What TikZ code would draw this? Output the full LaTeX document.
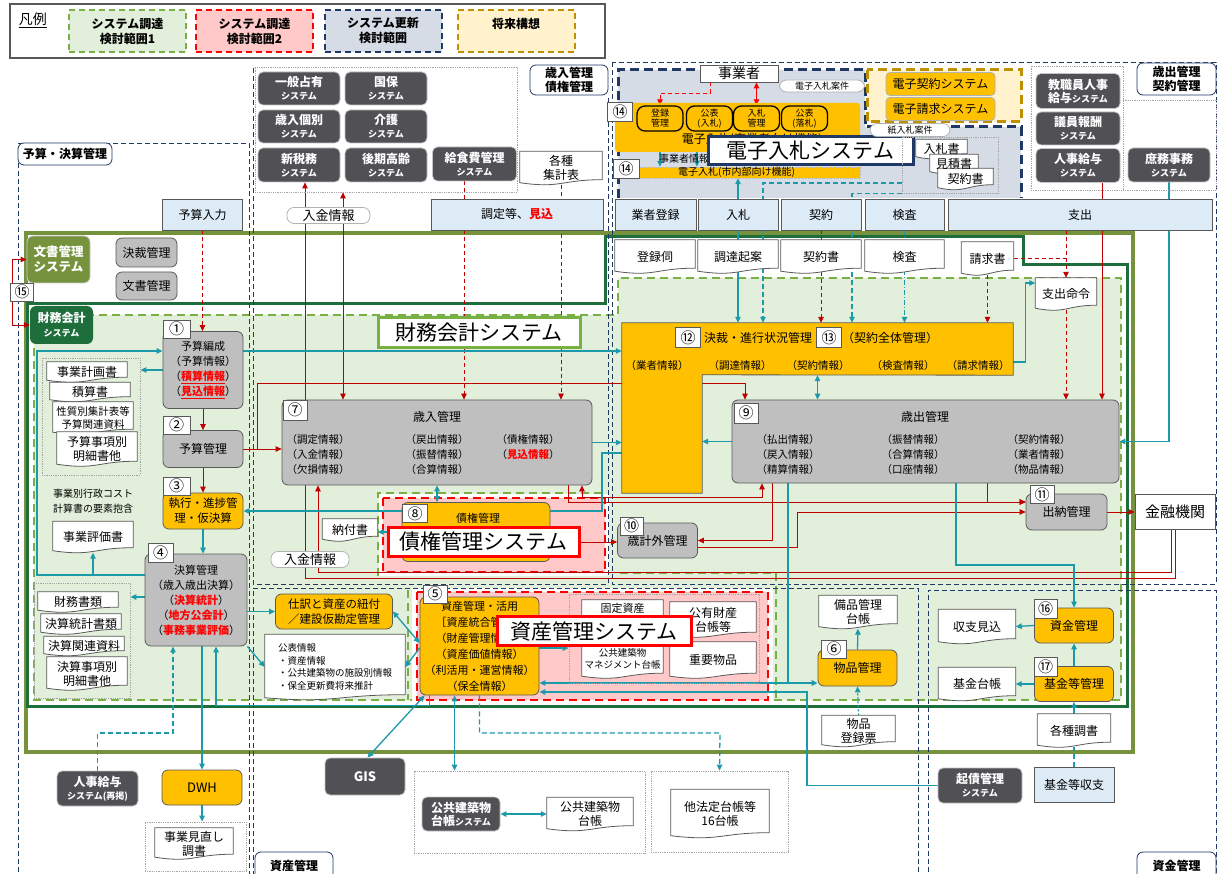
\documentclass[tikz,border=0pt]{standalone}
\usepackage{fontspec}
\setmainfont{Noto Sans CJK JP}
\usepackage{xcolor}
\usepackage{tikz}
\usetikzlibrary{arrows.meta,positioning,calc}

\definecolor{cOlive}{HTML}{76923C}
\definecolor{cDkGreen}{HTML}{1E6E3C}
\definecolor{cLtGreen}{HTML}{E2EFDA}
\definecolor{cGrnDash}{HTML}{78B045}
\definecolor{cPink}{HTML}{FFC9C9}
\definecolor{cRedDash}{HTML}{FF0000}
\definecolor{cNavy}{HTML}{1F3864}
\definecolor{cBlueGray}{HTML}{D6DCE5}
\definecolor{cGold}{HTML}{BF9000}
\definecolor{cLtYellow}{HTML}{FFF2CC}
\definecolor{cOrange}{HTML}{FFC000}
\definecolor{cProc}{HTML}{BFBFBF}
\definecolor{cLine}{HTML}{595959}
\definecolor{cSys}{HTML}{505055}
\definecolor{cInBlue}{HTML}{DDEBF7}
\definecolor{cTeal}{HTML}{1B9AAA}
\definecolor{cLineRed}{HTML}{C00000}
\definecolor{cHiRed}{HTML}{FF0000}

\pgfdeclarelayer{bg}
\pgfdeclarelayer{lines}
\pgfdeclarelayer{docs}
\pgfsetlayers{bg,lines,docs,main}

\newcommand\sysname[1]{#1\\{\fontsize{9}{10}\selectfont システム}}
\newcommand\hired[1]{\textcolor{cHiRed}{\bfseries #1}}
\newcommand\docout[1]{\filldraw[docline] (#1.north west) -- (#1.north east) -- ($(#1.south east)+(0,-5)$) .. controls ($(#1.south)+(0,-5)$) and ($(#1.south)+(0,4)$) .. ($(#1.south west)+(0,-2)$) -- cycle;}

\begin{document}
\begin{tikzpicture}[x=1pt, y=-1pt, >={Triangle[length=6pt,width=5.5pt]},
    sz/.style 2 args={minimum width=#1, minimum height=#2},
    proc/.style={rectangle, rounded corners=6pt, draw=cLine, thick, fill=cProc, align=center, inner sep=1pt, font=\fontsize{12}{14}\selectfont},
    orng/.style={proc, fill=cOrange},
    sub/.style={rectangle, rounded corners=8pt, draw=black, line width=1.3pt, fill=cOrange, align=center, inner sep=0pt, minimum width=46pt, minimum height=25pt, font=\fontsize{9}{10}\selectfont},
    sys/.style={rectangle, rounded corners=5pt, draw=gray!45, thick, fill=cSys, text=white, align=center, inner sep=1pt, font=\bfseries\fontsize{12}{13}\selectfont},
    inp/.style={rectangle, draw=cLine, thick, fill=cInBlue, align=center, inner sep=1pt, font=\fontsize{12}{14}\selectfont},
    doc/.style={rectangle, align=center, inner sep=1pt, font=\fontsize{12}{14}\selectfont},
    docline/.style={draw=cLine, thick, fill=white},
    badge/.style={rectangle, draw=cLine, thick, fill=white, inner sep=0pt, minimum width=24pt, minimum height=19pt, font=\fontsize{15}{15}\selectfont},
    pill/.style={rectangle, rounded corners=7pt, draw=gray!60, thick, fill=white, inner sep=1pt, font=\fontsize{13}{13}\selectfont},
    biglbl/.style={rectangle, fill=white, line width=3pt, inner sep=2pt, font=\fontsize{21}{24}\selectfont},
    areatag/.style={rectangle, rounded corners=6pt, draw=cNavy, thick, fill=white, align=center, inner sep=1pt, font=\bfseries\fontsize{12}{14}\selectfont},
    lg/.style={rectangle, line width=2pt, dash pattern=on 6pt off 4pt, align=center, minimum width=117pt, minimum height=42pt, font=\bfseries\fontsize{12}{15}\selectfont},
    dotbox/.style={rectangle, draw=gray!70, densely dotted, thick, inner sep=0pt},
    txt/.style={inner sep=0pt, align=center, font=\fontsize{10.5}{15}\selectfont},
    rarr/.style={draw=cLineRed, thick, ->},
    rboth/.style={draw=cLineRed, thick, <->},
    rdash/.style={rarr, dash pattern=on 4pt off 3pt},
    tarr/.style={draw=cTeal, line width=1.3pt, ->},
    tboth/.style={draw=cTeal, line width=1.3pt, <->},
    tdash/.style={tarr, dash pattern=on 5pt off 3pt},
    tdot/.style={tarr, dash pattern=on 5pt off 2pt on 1pt off 2pt}
]
\useasboundingbox (0,0) rectangle (1218,874);

% legend
\node[draw=cLine, line width=1.5pt, sz={595}{54}] (legend) at (307.5,31) {};
\node[font=\fontsize{14}{14}\selectfont] (lgTitle) at (33,20) {\underline{凡例}};
\node[lg, fill=cLtGreen, draw=cGrnDash] (lgGreen) at (127.5,31) {システム調達\\検討範囲1};
\node[lg, fill=cPink, draw=cRedDash] (lgRed) at (254.5,31) {システム調達\\検討範囲2};
\node[lg, fill=cBlueGray, draw=cNavy] (lgNavy) at (383,31) {システム更新\\検討範囲};
\node[lg, fill=cLtYellow, draw=cGold] (lgGold) at (516,31) {将来構想\\\mbox{}};

% groups of systems
\node[dotbox, sz={262}{125}] (sysGroup) at (386,129.5) {};
\node[dotbox, sz={92}{124}] (jinjiGroup) at (1077,128) {};
\node[dotbox, sz={93}{90}] (shomuGroup) at (1169.5,145) {};
\node[sys, sz={82}{33}] (sysIppan) at (299,88.5) {\sysname{一般占有}};
\node[sys, sz={82}{33}] (sysKokuho) at (386,88.5) {\sysname{国保}};
\node[sys, sz={82}{33}] (sysSainyu) at (299,126.5) {\sysname{歳入個別}};
\node[sys, sz={82}{33}] (sysKaigo) at (386,126.5) {\sysname{介護}};
\node[sys, sz={82}{34}] (sysZeimu) at (299,165) {\sysname{新税務}};
\node[sys, sz={82}{34}] (sysKouki) at (386,165) {\sysname{後期高齢}};
\node[sys, sz={84}{34}] (sysKyushoku) at (474.5,164) {\sysname{給食費管理}};
\node[doc, sz={82}{33}] (docShukei) at (561,168) {各種\\集計表};
\node[sys, sz={84}{35}] (sysKyoshoku) at (1078,91) {教職員人事\\給与{\fontsize{9}{10}\selectfont システム}};
\node[sys, sz={84}{33}] (sysGiin) at (1078,128.5) {\sysname{議員報酬}};
\node[sys, sz={84}{34}] (sysJinji) at (1078,165.5) {\sysname{人事給与}};
\node[sys, sz={82}{34}] (sysShomu) at (1169,165) {\sysname{庶務事務}};

% electronic bidding
\node[inp, fill=white, sz={78}{17}, font=\fontsize{14}{14}\selectfont] (jigyosha) at (739,73.5) {事業者};
\node[pill, sz={85}{12}, font=\fontsize{9}{10}\selectfont] (pillEbid) at (822,86) {電子入札案件};
\node[rectangle, rounded corners=3pt, fill=cOrange, draw=gray!50, densely dotted, sz={245}{49}] (ebidTop) at (737.5,127.5) {};
\node[txt, font=\fontsize{12}{12}\selectfont] (ebidTopTxt) at (752,140) {電子入札(事業者向け機能)};
\node[badge, sz={25}{19}] (b14a) at (620,112) {⑭};
\node[sub] (regKanri) at (660,118.5) {登録\\管理};
\node[sub] (pubBid) at (709.5,118.5) {公表\\(入札)};
\node[sub] (bidKanri) at (756.5,118.5) {入札\\管理};
\node[sub] (pubWin) at (804.5,118.5) {公表\\(落札)};
\node[txt, font=\fontsize{10}{10}\selectfont] (gyoshaInfo) at (684,159) {事業者情報};
\node[rectangle, fill=cOrange, draw=gray!50, densely dotted, sz={247}{11}, inner sep=0pt, font=\fontsize{10}{10}\selectfont] (ebidIn) at (736.5,172.5) {電子入札(市内部向け機能)};
\node[badge, sz={26}{19}] (b14b) at (626,168.5) {⑭};
\node[biglbl, draw=cNavy, sz={205}{28}] (ebidLbl) at (810.5,151) {電子入札システム};
\node[orng, rounded corners=4pt, draw=gray!60, sz={109}{23}] (keiyakuSys) at (940.5,84) {電子契約システム};
\node[orng, rounded corners=4pt, draw=gray!60, sz={109}{23}] (seikyuSys) at (940.5,109) {電子請求システム};
\node[pill, sz={80}{13}, font=\fontsize{9}{10}\selectfont] (pillPaper) at (910,130) {紙入札案件};
\node[dotbox, sz={96}{56}] (docBoxP) at (950,165) {};
\node[doc, sz={51}{19}] (nyusatsuDoc) at (941.5,149) {入札書};
\node[doc, sz={48}{19}] (mitsumoriDoc) at (954,164) {見積書};
\node[doc, sz={55}{21}] (keiyakuDocP) at (965.5,179) {契約書};

% input row
\node[inp, sz={80}{31}] (yosanIn) at (202.5,214.5) {予算入力};
\node[inp, sz={172}{31}] (choteiIn) at (517,214.5) {調定等、\hired{見込}};
\node[inp, sz={81}{31}] (gyoshaIn) at (655.5,214.5) {業者登録};
\node[inp, sz={80}{31}] (nyusatsuIn) at (738,214.5) {入札};
\node[inp, sz={80}{31}] (keiyakuIn) at (821,214.5) {契約};
\node[inp, sz={79}{31}] (kensaIn) at (904.5,214.5) {検査};
\node[inp, sz={264}{31}] (shishutsuIn) at (1080,214.5) {支出};
\node[doc, sz={80}{33}] (tourokuDoc) at (655,256.5) {登録伺};
\node[doc, sz={80}{33}] (chotatsuDoc) at (738,256.5) {調達起案};
\node[doc, sz={80}{33}] (keiyakuDoc) at (821,256.5) {契約書};
\node[doc, sz={79}{33}] (kensaDoc) at (904.5,256.5) {検査};
\node[doc, sz={52}{33}] (seikyuDoc) at (987.5,258.5) {請求書};
\node[doc, sz={61}{32}] (meireiDoc) at (1066,294) {支出命令};
\node[pill, sz={83}{16}] (pillNyukin1) at (328.5,215.5) {入金情報};
\node[pill, sz={78}{16}] (pillNyukin2) at (310,559.5) {入金情報};

% document management
\node[rectangle, rounded corners=6pt, fill=cOlive, draw=gray!40, thick, text=white, align=center, font=\bfseries\fontsize{12.5}{15}\selectfont, sz={63}{47}] (bunshoSys) at (58.5,259.5) {文書管理\\システム};
\node[proc, sz={61}{29}] (kessaiK) at (146.5,252.5) {決裁管理};
\node[proc, sz={61}{28}] (bunshoK) at (146.5,286) {文書管理};
\node[badge, sz={23}{18}] (b15) at (22,292) {⑮};
\node[rectangle, rounded corners=6pt, fill=cDkGreen, text=white, align=center, font=\bfseries\fontsize{12}{14}\selectfont, sz={63}{38}] (zaimuLbl) at (61.5,325) {\sysname{財務会計}};
\node[biglbl, draw=cGrnDash, sz={202}{30}] (zaimuBig) at (479,333) {財務会計システム};

% budget and settlement
\node[proc, sz={80}{77}, font=\fontsize{11}{15}\selectfont] (yosanHensei) at (203,370) {予算編成\\（予算情報）\\（\textcolor{cHiRed}{\bfseries\underline{積算情報}}）\\（\textcolor{cHiRed}{\bfseries\underline{見込情報}}）};
\node[badge, sz={27}{18}] (b1) at (176.5,329) {①};
\node[proc, sz={80}{37}] (yosanKanri) at (203,449) {予算管理};
\node[badge, sz={27}{18}] (b2) at (176.5,425) {②};
\node[orng, sz={80}{36}, font=\fontsize{11.5}{15}\selectfont] (shikko) at (203,511) {執行・進捗管\\理・仮決算};
\node[badge, sz={27}{18}] (b3) at (176.5,486) {③};
\node[proc, sz={102}{92}, font=\fontsize{11}{15}\selectfont] (kessan) at (196,600) {決算管理\\（歳入歳出決算）\\（\hired{決算統計}）\\（\hired{地方公会計}）\\（\hired{事務事業評価}）};
\node[badge, sz={25}{19}] (b4) at (160.5,552.5) {④};
\node[dotbox, sz={98}{117}] (docBox1) at (91,416.5) {};
\node[doc, sz={80}{20}] (jigyoKeikaku) at (87,372) {事業計画書};
\node[doc, sz={80}{19}] (sekisan) at (90,392) {積算書};
\node[doc, sz={80}{32}, font=\fontsize{10.5}{13}\selectfont] (seishitsu) at (93,418) {性質別集計表等\\予算関連資料};
\node[doc, sz={80}{34}] (yosanJiko) at (97,449) {予算事項別\\明細書他};
\node[txt, align=left, font=\fontsize{10}{15}\selectfont] (costTxt) at (93,501) {事業別行政コスト\\計算書の要素抱含};
\node[doc, sz={80}{31}] (hyokaDoc) at (93,537) {事業評価書};
\node[dotbox, sz={96}{115}] (docBox2) at (82,640.5) {};
\node[doc, sz={80}{20}] (zaimuShorui) at (78,602) {財務書類};
\node[doc, sz={80}{20}] (kessanTokei) at (81,624) {決算統計書類};
\node[doc, sz={80}{19}] (kessanKanren) at (84,646) {決算関連資料};
\node[doc, sz={80}{33}] (kessanJiko) at (87,673.5) {決算事項別\\明細書他};
\node[sys, sz={81}{35}] (jinjiSai) at (97.5,788.5) {人事給与\\{\fontsize{9}{10}\selectfont システム(再掲)}};
\node[orng, sz={80}{35}, font=\fontsize{13}{13}\selectfont] (dwh) at (202,787.5) {DWH};
\node[dotbox, sz={101}{49}] (minaoBox) at (195.5,846.5) {};
\node[doc, sz={78}{31}] (minaoshiDoc) at (194,843.5) {事業見直し\\調書};

% revenue
\node[proc, sz={310}{85}] (sainyuK) at (437,442.5) {};
\node[badge, sz={24}{20}] (b7) at (295,410) {⑦};
\node[txt, font=\fontsize{12}{12}\selectfont] (sainyuTtl) at (437,417) {歳入管理};
\node[txt] (sainyuC1) at (318,455) {（調定情報）\\（入金情報）\\（欠損情報）};
\node[txt] (sainyuC2) at (437,455) {（戻出情報）\\（振替情報）\\（合算情報）};
\node[txt] (sainyuC3) at (528,447.5) {（債権情報）\\（\hired{見込情報}）};
\node[orng, sz={148}{59}] (saikenK) at (476,532) {};
\node[badge, sz={25}{18}] (b8) at (415,513.5) {⑧};
\node[txt, font=\fontsize{11}{11}\selectfont] (saikenTtl) at (478,518) {債権管理};
\node[doc, sz={55}{22}] (nofuDoc) at (350,530) {納付書};
\node[biglbl, draw=cRedDash, sz={191}{29}] (saikenLbl) at (483.5,542) {債権管理システム};

% approval and expenditure
\node[sz={391}{52}, inner sep=0pt] (kessaiTop) at (817.5,349) {};
\node[sz={80}{118}, inner sep=0pt] (kessaiLeg) at (662,434) {};
\node[badge, sz={25}{20}] (b12) at (688,337.5) {⑫};
\node[txt, anchor=west, font=\fontsize{12}{12}\selectfont] (kessaiTtl) at (704,338) {決裁・進行状況管理};
\node[badge, sz={25}{20}] (b13) at (829,337.5) {⑬};
\node[txt, anchor=west, font=\fontsize{12}{12}\selectfont] (keiyakuTtl) at (842,338) {（契約全体管理）};
\node[txt] (kInfo1) at (657,366) {（業者情報）};
\node[txt] (kInfo2) at (740,366) {（調達情報）};
\node[txt] (kInfo3) at (818,366) {（契約情報）};
\node[txt] (kInfo4) at (903,366) {（検査情報）};
\node[txt] (kInfo5) at (978,366) {（請求情報）};
\node[proc, sz={387}{83}] (saishutsuK) at (925.5,441.5) {};
\node[badge, sz={24}{20}] (b9) at (746,413) {⑨};
\node[txt, font=\fontsize{12}{12}\selectfont] (saishutsuTtl) at (925,417) {歳出管理};
\node[txt] (saishutsuC1) at (788,455) {（払出情報）\\（戻入情報）\\（精算情報）};
\node[txt] (saishutsuC2) at (913,455) {（振替情報）\\（合算情報）\\（口座情報）};
\node[txt] (saishutsuC3) at (1039,455) {（契約情報）\\（業者情報）\\（物品情報）};
\node[proc, sz={80}{35}] (saikeigai) at (657.5,540.5) {歳計外管理};
\node[badge, sz={23}{18}] (b10) at (631.5,526) {⑩};
\node[proc, sz={81}{36}] (suitou) at (1066.5,512) {出納管理};
\node[badge, sz={24}{18}] (b11) at (1042,494.5) {⑪};
\node[inp, fill=white, sz={80}{35}, font=\fontsize{15}{15}\selectfont] (kinyu) at (1175,512) {金融機関};

% assets
\node[orng, sz={117}{35}, font=\fontsize{11.5}{15}\selectfont] (shiwake) at (334,611.5) {仕訳と資産の紐付\\／建設仮勘定管理};
\node[doc, align=left, sz={140}{65}, font=\fontsize{9.5}{12.5}\selectfont] (kohyoDoc) at (335,667) {公表情報\\・資産情報\\・公共建築物の施設別情報\\・保全更新費将来推計};
\node[orng, sz={119}{98}, font=\fontsize{11}{16}\selectfont] (shisanK) at (479.5,646) {資産管理・活用\\［資産統合管理］\\（財産管理情報）\\（資産価値情報）\\（利活用・運営情報）\\（保全情報）};
\node[badge, sz={24}{18}] (b5) at (435,594) {⑤};
\node[dotbox, sz={190}{89}] (docBoxS) at (664,638.5) {};
\node[doc, sz={81}{30}, font=\fontsize{11}{13}\selectfont] (koteiDoc) at (622.5,615) {固定資産\\台帳};
\node[doc, sz={81}{38}, font=\fontsize{9.5}{12.5}\selectfont] (kokyoMgDoc) at (622.5,659) {公共建築物\\マネジメント台帳};
\node[doc, sz={86}{35}] (koyuDoc) at (713,619.5) {公有財産\\台帳等};
\node[doc, sz={86}{36}] (juyoDoc) at (713,660) {重要物品};
\node[biglbl, draw=cRedDash, sz={194}{29}] (shisanLbl) at (594,631) {資産管理システム};
\node[doc, sz={78}{33}] (bihinDoc) at (858,612) {備品管理\\台帳};
\node[orng, sz={79}{36}] (buppin) at (857.5,668) {物品管理};
\node[badge, sz={25}{18}] (b6) at (834,649) {⑥};
\node[doc, sz={73}{31}] (butTouroku) at (858.5,731) {物品\\登録票};
\node[sys, sz={80}{37}, font=\bfseries\fontsize{13}{13}\selectfont] (gis) at (365,776.5) {GIS};
\node[dotbox, sz={231}{82}] (kokyoBox) at (529.5,812) {};
\node[sys, sz={78}{34}] (kokyoSys) at (461,814) {公共建築物\\台帳{\fontsize{9}{10}\selectfont システム}};
\node[doc, sz={86}{33}] (kokyoDoc) at (590,814) {公共建築物\\台帳};
\node[dotbox, sz={137}{81}] (tahoBox) at (719.5,811.5) {};
\node[doc, sz={98}{48}] (tahoDoc) at (720,813.5) {他法定台帳等\\16台帳};

% funds
\node[orng, sz={79}{35}] (shikinK) at (1074,625.5) {資金管理};
\node[badge, sz={23}{19}] (b16) at (1045.5,609) {⑯};
\node[doc, sz={77}{34}] (shushiDoc) at (977,626.5) {収支見込};
\node[orng, sz={79}{35}] (kikinK) at (1074,684) {基金等管理};
\node[badge, sz={23}{19}] (b17) at (1045.5,667) {⑰};
\node[doc, sz={77}{33}] (kikinDoc) at (977,684) {基金台帳};
\node[doc, sz={73}{33}] (chosyoDoc) at (1074,730.5) {各種調書};
\node[inp, sz={80}{35}] (kikinShushi) at (1074,784.5) {基金等収支};
\node[sys, sz={84}{35}] (kisaiSys) at (980,785.5) {\sysname{起債管理}};

% area tags
\node[areatag, sz={94}{22}] (tagBudget) at (65,154) {予算・決算管理};
\node[areatag, sz={78}{30}] (tagRevenue) at (569,80) {歳入管理\\債権管理};
\node[areatag, sz={79}{32}] (tagExpense) at (1176.5,79) {歳出管理\\契約管理};
\node[areatag, sz={78}{28}] (tagAsset) at (294,866) {資産管理};
\node[areatag, sz={79}{28}] (tagFund) at (1176.5,866) {資金管理};

\begin{pgfonlayer}{bg}
\fill[white] (0,0) rectangle (1218,874);
\fill[cLtGreen] (34,315) -- (618,315) -- (618,278) -- (1121,278) -- (1121,700) -- (34,700) -- cycle;
\draw[cGrnDash, line width=2.2pt, dash pattern=on 8pt off 5pt] (34,315) -- (618,315) -- (618,278) -- (1121,278) -- (1121,700) -- (34,700) -- cycle;
\draw[cGrnDash, line width=2.2pt, dash pattern=on 8pt off 5pt] (378,576) -- (378,493) -- (605,493);
\draw[cGrnDash, line width=2.2pt, dash pattern=on 8pt off 5pt] (408,590) -- (408,700);
\draw[cGrnDash, line width=2.2pt, dash pattern=on 8pt off 5pt] (620,573) -- (776,573) -- (776,700);
\fill[white] (379,494) rectangle (609,576);
\filldraw[fill=cPink, draw=cRedDash, line width=2.2pt, dash pattern=on 8pt off 5pt] (383,498) rectangle (605,572);
\fill[white] (412,588) rectangle (773,703);
\filldraw[fill=cPink, draw=cRedDash, line width=2.2pt, dash pattern=on 8pt off 5pt] (417,592) rectangle (768,700);
\draw[cOlive, line width=4pt] (26,233) rectangle (1133,752);
\draw[cDkGreen, line width=3pt] (27,304) -- (605,304) -- (605,237) -- (1023,237) -- (1023,265) -- (1127,265) -- (1127,706) -- (27,706) -- cycle;
\draw[cNavy, thick, dash pattern=on 5pt off 3pt] (18,880) -- (18,143) -- (249,143) -- (249,880);
\draw[cNavy, thick, dash pattern=on 5pt off 3pt] (253,68) -- (253,584) -- (608,584) -- (608,95);
\draw[cNavy, thick, dash pattern=on 5pt off 3pt] (612,62) rectangle (1216,584);
\draw[cNavy, thick, dash pattern=on 5pt off 3pt] (918,880) -- (918,588) -- (253,588) -- (253,880);
\draw[cNavy, thick, dash pattern=on 5pt off 3pt] (928,880) -- (928,590) -- (1216,590) -- (1216,880);
\fill[cBlueGray] (618,70) -- (865,70) -- (865,127) -- (1021,127) -- (1021,198) -- (618,198) -- cycle;
\draw[cNavy, line width=3pt, dash pattern=on 9pt off 5pt] (618,198) -- (618,70) -- (865,70) -- (865,127) -- (1021,127) -- (1021,198);
\filldraw[fill=cLtYellow, draw=cGold, line width=3pt, dash pattern=on 9pt off 5pt] (867,70) rectangle (1021,122);
\end{pgfonlayer}

\begin{pgfonlayer}{lines}
% red flows
\draw[rarr] ([xshift=-10pt]b15.north) |- (bunshoSys.west);
\draw[rarr] ([xshift=-10pt]b15.south) |- (zaimuLbl.west);
\draw[rdash] (yosanIn.south) -- (yosanIn.south |- yosanHensei.north);
\draw[rarr] (yosanHensei.south) -- (yosanKanri.north);
\draw[rarr] (yosanKanri.south) -- (shikko.north);
\draw[rarr] (yosanKanri.east) -- (yosanKanri.east -| sainyuK.west);
\draw[rarr] (yosanKanri.east) -- ++(14,0) |- (745,383) -- ([xshift=-180.5pt]saishutsuK.north);
\draw[rarr] (kinyu.south) |- (305,578) -- ([xshift=6pt]sysZeimu.south);
\draw[rarr] ([xshift=-4pt]kinyu.south) |- (318,572) -- ([xshift=-119pt]sainyuK.south);
\draw[rboth] ([xshift=-43pt]sysGroup.south) -- ([xshift=-94pt]sainyuK.north);
\draw[rdash] ([xshift=-10.5pt]sysKyushoku.south) -- ([xshift=27pt]sainyuK.north);
\draw[rdash] (docShukei.south) -- (docShukei.south |- sainyuK.north);
\draw[rboth] ([xshift=145pt]sainyuK.south) |- (762,497) -- ([xshift=-163.5pt]saishutsuK.south);
\draw[rarr] ([xshift=131pt]sainyuK.south) |- ([yshift=10pt]suitou.west);
\draw[rarr] ([xshift=61.5pt]saishutsuK.south) |- ([yshift=10pt]suitou.west);
\draw[rarr] ([xshift=-153.5pt]saishutsuK.south) |- (saikeigai.east);
\draw[rarr] ([yshift=-7pt]saikeigai.east) -- (797,547.5) |- (suitou.west);
\draw[rarr] (saikenLbl.east) -- (saikenLbl.east -| saikeigai.west);
\draw[rarr] (suitou.east) -- (kinyu.west);
\draw[rarr] ([xshift=24pt]sysJinji.south) -- ([xshift=176.5pt]saishutsuK.north);
\draw[rdash] ([xshift=-14pt]shishutsuIn.south) -- (meireiDoc.north);
\draw[rdash] (meireiDoc.south) -- ([xshift=140.5pt]saishutsuK.north);
\draw[draw=cLineRed, thick, dash pattern=on 4pt off 3pt] (seikyuDoc.east) -- (seikyuDoc.east -| meireiDoc.north);
\draw[rdash] (seikyuDoc.south) -- (seikyuDoc.south |- kessaiTop.north);
\draw[rdash] (keiyakuIn.south) -- (keiyakuIn.south |- kessaiTop.north);
\draw[rdash, draw=cHiRed] ([xshift=-29pt]jigyosha.south) |- (660,93) -- (regKanri.north);
\draw[rboth, draw=cHiRed] ([xshift=17.5pt]jigyosha.south) -- (bidKanri.north);
% teal flows
\draw[tarr] (yosanHensei.west) -- (yosanHensei.west -| docBox1.east);
\draw[tarr] ([yshift=25pt]kessan.west) -| (37,351) -- ([yshift=19pt]yosanHensei.west);
\draw[tarr] (93,575) -- (hyokaDoc.south);
\draw[tarr] ([yshift=19pt]yosanHensei.east) -- ([yshift=19pt]yosanHensei.east -| kessaiTop.west);
\draw[tarr] (shikko.south) -- (shikko.south |- kessan.north);
\draw[tarr] ([yshift=-19pt]kessaiLeg.west) -| (602,511) -- (shikko.east);
\draw[tarr] (sainyuK.east) -- (sainyuK.east -| kessaiLeg.west);
\draw[tarr] (saishutsuK.west) -- (saishutsuK.west -| kessaiLeg.east);
\draw[tboth] (kessaiTop.south) -- (kessaiTop.south |- saishutsuK.north);
\draw[tboth] (sainyuK.south) -- (sainyuK.south |- saikenK.north);
\draw[tarr] (saikenK.west) -- (saikenK.west -| nofuDoc.east);
\draw[tarr] (nyusatsuIn.north) -- (nyusatsuIn.north |- ebidIn.south);
\draw[tboth] (regKanri.south) -- (regKanri.south |- ebidIn.north);
\draw[tboth] ([xshift=-12.5pt]pubBid.south) -- ([xshift=-12.5pt]pubBid.south |- ebidIn.north);
\draw[tarr] (nyusatsuIn.south) -- (nyusatsuIn.south |- kessaiTop.north);
\draw[tdash] ([yshift=-18pt]docBoxP.west) -| ([xshift=-54.5pt]kessaiTop.north);
\draw[tdash] (docBoxP.south west) -| ([xshift=34.5pt]kessaiTop.north);
\draw[tdot] (kensaIn.south) -- (kensaIn.south |- kessaiTop.north);
\draw[tarr] ([yshift=-13pt]kessaiTop.east) -- ++(12,0) |- ([yshift=11pt]meireiDoc.west);
\draw[tarr] (sysShomu.south) |- (saishutsuK.east);
\draw[tarr] ([xshift=30.5pt]saishutsuK.south) |- (1074,565) -- (shikinK.north);
\draw[tarr, line width=2pt] ([xshift=-137.5pt]saishutsuK.south) |- ([yshift=-15pt]buppin.west);
\draw[tarr] (788,683) -- ([yshift=-37pt]shisanK.east);
\draw[tarr] (kisaiSys.west) -| (807,692) -- ([yshift=-46pt]shisanK.east);
\draw[tarr] (shikinK.west) -- (shushiDoc.east);
\draw[tarr] (kikinK.west) -- (kikinDoc.east);
\draw[tarr] (kikinK.north) -- (shikinK.south);
\draw[tarr] (chosyoDoc.north) -- (kikinK.south);
\draw[draw=cTeal, line width=1.3pt, dash pattern=on 5pt off 3pt] (kikinShushi.north) -- (chosyoDoc.south);
\draw[tarr] (buppin.north) -- (bihinDoc.south);
\draw[tarr, dash pattern=on 2pt off 2pt] (butTouroku.north) -- (buppin.south);
\draw[tarr] (kessan.east |- shiwake.west) -- (shiwake.west);
\draw[tarr] (kessan.south east) -- (kohyoDoc.west);
\draw[tarr] ([yshift=3pt]kessan.west) -- ([yshift=3pt]kessan.west -| docBox2.east);
\draw[tboth] (shiwake.east) -- ([yshift=3pt]shisanK.west);
\draw[tarr] ([yshift=-2pt]shisanK.west) -- (kohyoDoc.east);
\draw[tarr] ([yshift=-2pt]shisanK.east) -- ([yshift=-2pt]shisanK.east -| docBoxS.west);
\draw[tboth] ([xshift=5pt]shisanK.south west) -- ([xshift=-38pt]gis.north east);
\draw[tboth] ([xshift=-25pt]shisanK.south) -- ([xshift=-75pt]kokyoBox.north);
\draw[tdash] (shisanK.south) |- (720,733) -- (tahoBox.north);
\draw[tarr] ([xshift=-50pt]shisanK.south) -- ++(0,10) -| ([xshift=20pt]kessan.south);
\draw[tarr] (dwh.north |- kessan.south) -- (dwh.north);
\draw[tarr] (dwh.south) -- (dwh.south |- minaoBox.north);
\draw[tdash] (jinjiSai.north) |- (173,733) -- ([xshift=-23pt]kessan.south);
\draw[tboth] (kokyoSys.east) -- (kokyoDoc.west);
\end{pgfonlayer}

\begin{pgfonlayer}{docs}
\filldraw[fill=cOrange, draw=cLine, thick] (kessaiTop.north west) -- (kessaiTop.north east) -- (kessaiTop.south east) -- (kessaiLeg.north east) -- (kessaiLeg.south east) -- (kessaiLeg.south west) -- cycle;
\docout{docShukei}\docout{nyusatsuDoc}\docout{mitsumoriDoc}\docout{keiyakuDocP}
\docout{tourokuDoc}\docout{chotatsuDoc}\docout{keiyakuDoc}\docout{kensaDoc}
\docout{seikyuDoc}\docout{meireiDoc}
\docout{jigyoKeikaku}\docout{sekisan}\docout{seishitsu}\docout{yosanJiko}\docout{hyokaDoc}
\docout{zaimuShorui}\docout{kessanTokei}\docout{kessanKanren}\docout{kessanJiko}
\docout{minaoshiDoc}\docout{nofuDoc}\docout{kohyoDoc}
\docout{koteiDoc}\docout{kokyoMgDoc}\docout{koyuDoc}\docout{juyoDoc}
\docout{bihinDoc}\docout{butTouroku}\docout{kokyoDoc}\docout{tahoDoc}
\docout{shushiDoc}\docout{kikinDoc}\docout{chosyoDoc}
\end{pgfonlayer}
\end{tikzpicture}
\end{document}
